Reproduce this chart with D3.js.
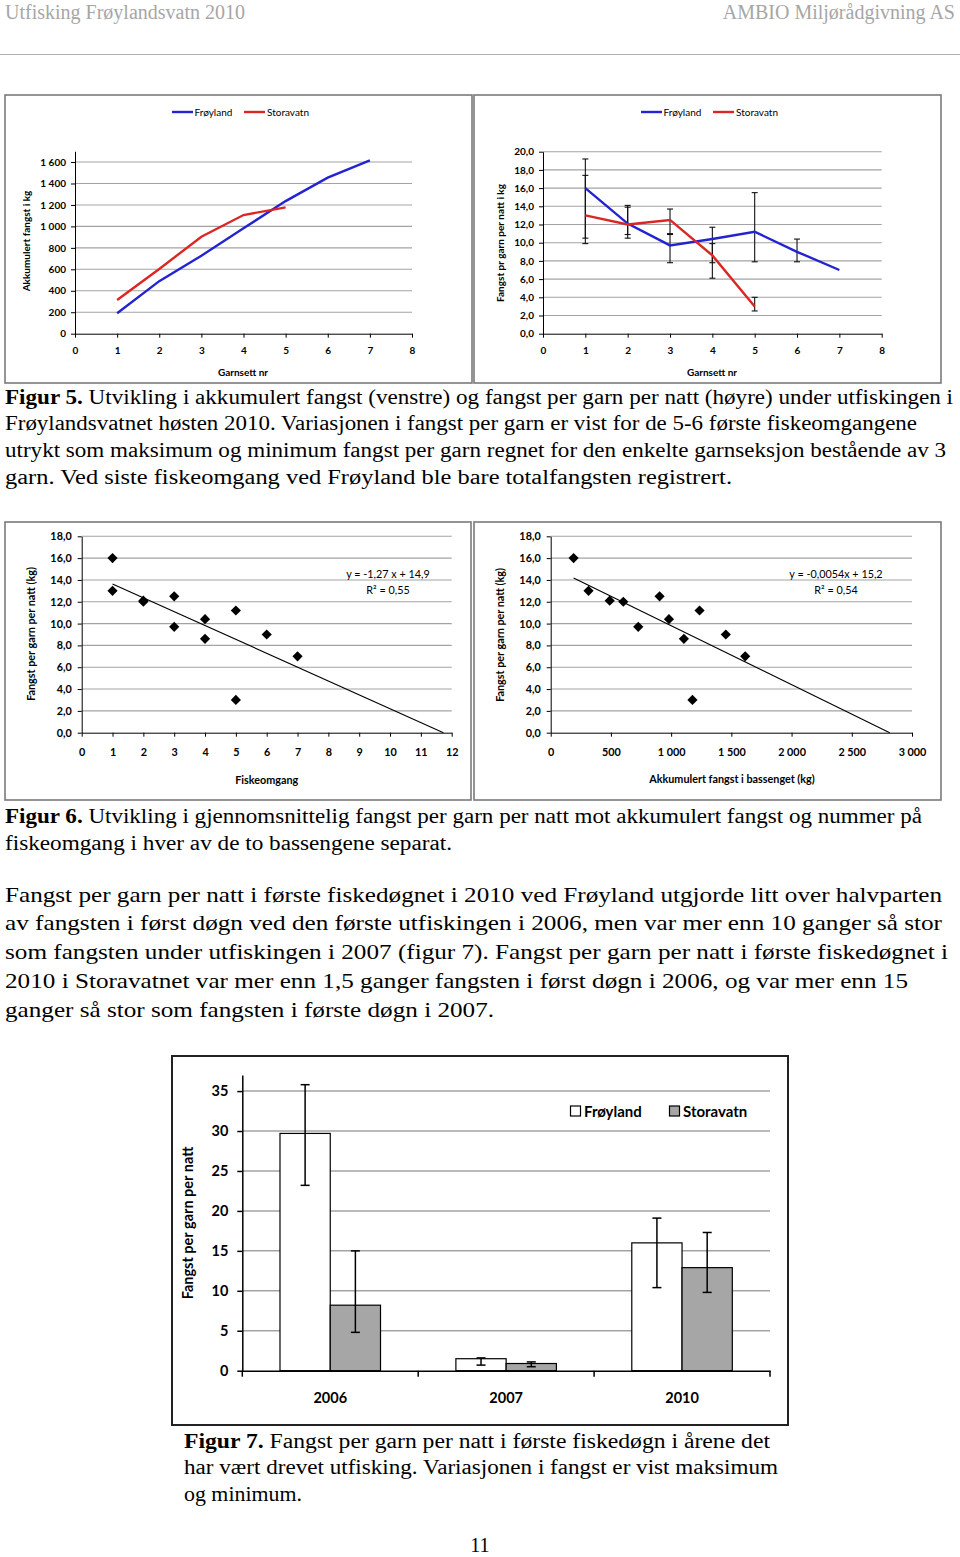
<!DOCTYPE html>
<html><head><meta charset="utf-8">
<script src="https://cdn.jsdelivr.net/npm/d3@7"></script>
<style>
html,body{margin:0;padding:0;background:#fff;}
svg{display:block;}
text{white-space:pre;}
</style></head>
<body>
<script>
// ---------- DATA ----------
const garnsett = [1, 2, 3, 4, 5, 6, 7];
const froylandAkk = [190, 490, 727, 982, 1236, 1454, 1615];
const storavatnAkk = [314, 603, 904, 1106, 1177];
const froylandPerNatt = [16.0, 12.1, 9.7, 10.4, 11.2, 9.0, 7.0];
const storavatnPerNatt = [13.0, 12.0, 12.5, 8.6, 3.0];
const froylandMin = [10.5, 10.5, 7.8, 7.8, 7.9, 7.9];
const froylandMax = [19.2, 14.1, 10.9, 11.7, 15.5, 10.4];
const storavatnMin = [9.9, 10.9, 11.0, 6.1, 2.5];
const storavatnMax = [17.4, 13.9, 13.7, 9.9, 4.0];
const trendOmgang = {slope: -1.27, intercept: 14.9};
const trendAkk = {slope: -0.0054, intercept: 15.2};
const years = ["2006", "2007", "2010"];
const froylandYear = [29.7, 1.5, 16.0];
const froylandYearMin = [23.2, 0.7, 10.4];
const froylandYearMax = [35.8, 1.6, 19.1];
const storavatnYear = [8.2, 0.9, 12.9];
const storavatnYearMin = [4.8, 0.5, 9.8];
const storavatnYearMax = [15.0, 1.1, 17.3];
const ticksAkk = [0, 200, 400, 600, 800, 1000, 1200, 1400, 1600];
const ticksPerNatt20 = [0, 2, 4, 6, 8, 10, 12, 14, 16, 18, 20];
const ticksPerNatt18 = [0, 2, 4, 6, 8, 10, 12, 14, 16, 18];
const ticksGarnsett = [0, 1, 2, 3, 4, 5, 6, 7, 8];
const ticksOmgang = [0, 1, 2, 3, 4, 5, 6, 7, 8, 9, 10, 11, 12];
const ticksAkkX = [0, 500, 1000, 1500, 2000, 2500, 3000];
const ticksYear = [0, 5, 10, 15, 20, 25, 30, 35];

// ---------- SETUP ----------
const svg = d3.select("body").append("svg").attr("width", 960).attr("height", 1557);
const loc = d3.formatLocale({decimal: ",", thousands: " ", grouping: [3], currency: ["", ""]});
const fInt = loc.format(",");
const f1 = loc.format(",.1f");
const BLUE = "#2323d2", RED = "#dc2626", GRID = "#a3a3a3";
const CF = "Lato, 'Open Sans', sans-serif";
const SERIF = "'Liberation Serif', 'Times New Roman', serif";

function frame(x0, y0, x1, y1, col, w) {
  svg.append("rect").attr("x", x0).attr("y", y0).attr("width", x1 - x0).attr("height", y1 - y0)
    .attr("fill", "none").attr("stroke", col || "#7a7a7a").attr("stroke-width", w || 1.6);
}

function axes(g, x, y, yTicks, xTicks, yFmt, xFmt, fs, opts) {
  opts = opts || {};
  const xr = x.range(), yr = y.range();
  g.append("g").selectAll("line").data(yTicks.filter(v => v > 0)).join("line")
    .attr("x1", xr[0]).attr("x2", xr[1]).attr("y1", d => y(d)).attr("y2", d => y(d))
    .attr("stroke", GRID).attr("stroke-width", opts.gw || 1.1);
  const ya = g.append("g").attr("transform", `translate(${xr[0]},0)`)
    .call(d3.axisLeft(y).tickValues(yTicks).tickFormat(yFmt).tickSizeInner(opts.ts || 4).tickSizeOuter(0).tickPadding(opts.yp || 5));
  const xa = g.append("g").attr("transform", `translate(0,${yr[0]})`)
    .call(d3.axisBottom(x).tickValues(xTicks).tickFormat(xFmt).tickSizeInner(opts.ts || 4).tickSizeOuter(0).tickPadding(opts.xp || 8));
  [ya, xa].forEach(a => {
    a.selectAll("path,line").attr("stroke", "#000").attr("stroke-width", opts.aw || 1);
    a.selectAll("text").style("font-family", CF).style("font-weight", "bold").style("font-size", fs + "px").attr("fill", "#000");
  });
  return {ya, xa};
}

function label(x, y, txt, fs, opts) {
  opts = opts || {};
  const t = svg.append("text").attr("x", x).attr("y", y).text(txt)
    .style("font-family", CF).style("font-size", fs + "px")
    .style("font-weight", opts.bold === false ? "normal" : "bold")
    .attr("text-anchor", opts.anchor || "middle").attr("fill", "#000");
  if (opts.rot) t.attr("transform", `rotate(-90,${x},${y})`);
  return t;
}

function legendLines(x0, y0) {
  svg.append("line").attr("x1", x0).attr("x2", x0 + 21).attr("y1", y0).attr("y2", y0).attr("stroke", BLUE).attr("stroke-width", 2.4);
  svg.append("text").attr("x", x0 + 22.5).attr("y", y0 + 3.5).text("Frøyland").style("font-family", CF).style("font-size", "10px");
  svg.append("line").attr("x1", x0 + 72).attr("x2", x0 + 93).attr("y1", y0).attr("y2", y0).attr("stroke", RED).attr("stroke-width", 2.4);
  svg.append("text").attr("x", x0 + 95).attr("y", y0 + 3.5).text("Storavatn").style("font-family", CF).style("font-size", "10px");
}

// ---------- HEADER ----------
svg.append("text").attr("x", 5).attr("y", 19).text("Utfisking Frøylandsvatn 2010")
  .style("font-family", SERIF).style("font-size", "20px").attr("fill", "#a6a6a6");
svg.append("text").attr("x", 955).attr("y", 19).attr("text-anchor", "end").text("AMBIO Miljørådgivning AS")
  .style("font-family", SERIF).style("font-size", "20px").attr("fill", "#a6a6a6");
svg.append("line").attr("x1", 0).attr("x2", 960).attr("y1", 54.5).attr("y2", 54.5).attr("stroke", "#b0b0b0").attr("stroke-width", 1.2);

// ---------- FIG 5 LEFT ----------
frame(5, 95, 472, 383);
{
  const x = d3.scaleLinear().domain([0, 8]).range([75, 412]);
  const y = d3.scaleLinear().domain([0, 1700]).range([333.7, 151.3]);
  const g = svg.append("g");
  axes(g, x, y, ticksAkk, ticksGarnsett, fInt, d3.format("d"), 10, {xp: 9});
  const line = d3.line().x((d, i) => x(garnsett[i])).y(d => y(d));
  g.append("path").attr("d", line(froylandAkk)).attr("fill", "none").attr("stroke", BLUE).attr("stroke-width", 2.4);
  g.append("path").attr("d", line(storavatnAkk)).attr("fill", "none").attr("stroke", RED).attr("stroke-width", 2.4);
  legendLines(172, 112);
  label(30, 241, "Akkumulert fangst i kg", 10, {rot: true});
  label(243, 375.5, "Garnsett nr", 10);
}

// ---------- FIG 5 RIGHT ----------
frame(474, 95, 941, 383);
{
  const x = d3.scaleLinear().domain([0, 8]).range([543, 881.7]);
  const y = d3.scaleLinear().domain([0, 20]).range([333.7, 151.7]);
  const g = svg.append("g");
  axes(g, x, y, ticksPerNatt20, ticksGarnsett, f1, d3.format("d"), 10, {xp: 9});
  const line = d3.line().x((d, i) => x(garnsett[i])).y(d => y(d));
  function errs(mins, maxs) {
    mins.forEach((mn, i) => {
      const cx = x(garnsett[i]), mx = maxs[i];
      g.append("line").attr("x1", cx).attr("x2", cx).attr("y1", y(mn)).attr("y2", y(mx)).attr("stroke", "#111").attr("stroke-width", 1.1);
      [mn, mx].forEach(v => g.append("line").attr("x1", cx - 3).attr("x2", cx + 3).attr("y1", y(v)).attr("y2", y(v)).attr("stroke", "#111").attr("stroke-width", 1.1));
    });
  }
  errs(froylandMin, froylandMax);
  errs(storavatnMin, storavatnMax);
  g.append("path").attr("d", line(froylandPerNatt)).attr("fill", "none").attr("stroke", BLUE).attr("stroke-width", 2.4);
  g.append("path").attr("d", line(storavatnPerNatt)).attr("fill", "none").attr("stroke", RED).attr("stroke-width", 2.4);
  legendLines(641, 112);
  label(504, 243, "Fangst pr garn per natt i kg", 10, {rot: true});
  label(712, 375.5, "Garnsett nr", 10);
}

// ---------- FIG 6 ----------
const diamond = d3.symbol().type(d3.symbolSquare).size(52);
function scatter(x, y, pts, trend, xStart) {
  const g = svg.append("g");
  const xEnd = -trend.intercept / trend.slope;
  g.append("line").attr("x1", x(xStart)).attr("y1", y(trend.slope * xStart + trend.intercept))
    .attr("x2", x(xEnd)).attr("y2", y(0)).attr("stroke", "#000").attr("stroke-width", 1.1);
  g.selectAll("path.pt").data(pts).join("path").attr("class", "pt").attr("d", diamond)
    .attr("transform", d => `translate(${x(d[0])},${y(d[1])}) rotate(45)`).attr("fill", "#000");
  return g;
}

frame(5, 522, 471, 800);
{
  const x = d3.scaleLinear().domain([0, 12]).range([81.7, 451.7]);
  const y = d3.scaleLinear().domain([0, 18]).range([732.7, 536.3]);
  const g = svg.append("g");
  axes(g, x, y, ticksPerNatt18, ticksOmgang, f1, d3.format("d"), 10.8, {xp: 12, yp: 6});
  const pts = froylandPerNatt.map((v, i) => [garnsett[i], v]).concat(storavatnPerNatt.map((v, i) => [garnsett[i], v]));
  scatter(x, y, pts, trendOmgang, 1);
  label(388, 577.5, "y = -1,27 x + 14,9", 10.8, {bold: false});
  label(388, 593.5, "R² = 0,55", 10.8, {bold: false});
  label(35, 634, "Fangst per garn per natt (kg)", 10.8, {rot: true});
  label(266.7, 783.5, "Fiskeomgang", 10.8);
}

frame(474, 522, 941, 800);
{
  const x = d3.scaleLinear().domain([0, 3000]).range([550.7, 912]);
  const y = d3.scaleLinear().domain([0, 18]).range([732.7, 536.3]);
  const g = svg.append("g");
  axes(g, x, y, ticksPerNatt18, ticksAkkX, f1, fInt, 10.8, {xp: 12, yp: 6});
  const pts = froylandPerNatt.map((v, i) => [froylandAkk[i], v]).concat(storavatnPerNatt.map((v, i) => [storavatnAkk[i], v]));
  scatter(x, y, pts, trendAkk, d3.min(pts, d => d[0]));
  label(836, 577.5, "y = -0,0054x + 15,2", 10.8, {bold: false});
  label(836, 593.5, "R² = 0,54", 10.8, {bold: false});
  label(504, 635, "Fangst per garn per natt (kg)", 10.8, {rot: true});
  label(732, 783, "Akkumulert fangst i bassenget (kg)", 10.8);
}

// ---------- FIG 7 ----------
frame(172, 1056, 788, 1425, "#222", 2);
{
  const x = d3.scaleBand().domain(years).range([242.3, 770]).padding(0);
  const xs = d3.scaleBand().domain(["F", "S"]).range([0, x.bandwidth()]).paddingInner(0).paddingOuter(0.75);
  const y = d3.scaleLinear().domain([0, 37]).range([1370.7, 1075.1]);
  const g = svg.append("g");
  g.append("g").selectAll("line").data(ticksYear.filter(v => v > 0)).join("line")
    .attr("x1", 242.3).attr("x2", 770).attr("y1", d => y(d)).attr("y2", d => y(d))
    .attr("stroke", GRID).attr("stroke-width", 1.5);
  const series = [
    {k: "F", v: froylandYear, mn: froylandYearMin, mx: froylandYearMax, fill: "#fff"},
    {k: "S", v: storavatnYear, mn: storavatnYearMin, mx: storavatnYearMax, fill: "#a6a6a6"}
  ];
  series.forEach(s => {
    g.selectAll(null).data(years).join("rect")
      .attr("x", d => x(d) + xs(s.k)).attr("width", xs.bandwidth())
      .attr("y", (d, i) => y(s.v[i])).attr("height", (d, i) => y(0) - y(s.v[i]))
      .attr("fill", s.fill).attr("stroke", "#000").attr("stroke-width", 1.2);
  });
  series.forEach(s => {
    years.forEach((yr, i) => {
      const cx = x(yr) + xs(s.k) + xs.bandwidth() / 2;
      g.append("line").attr("x1", cx).attr("x2", cx).attr("y1", y(s.mn[i])).attr("y2", y(s.mx[i])).attr("stroke", "#000").attr("stroke-width", 1.5);
      [s.mn[i], s.mx[i]].forEach(v => g.append("line").attr("x1", cx - 4.5).attr("x2", cx + 4.5).attr("y1", y(v)).attr("y2", y(v)).attr("stroke", "#000").attr("stroke-width", 1.5));
    });
  });
  const ya = g.append("g").attr("transform", "translate(242.3,0)")
    .call(d3.axisLeft(y).tickValues(ticksYear).tickSizeInner(5).tickSizeOuter(0).tickPadding(9));
  const xa = g.append("g").attr("transform", `translate(0,${y(0)})`)
    .call(d3.axisBottom(x).tickSize(0).tickPadding(22));
  xa.selectAll(".tick line").remove();
  g.append("g").selectAll("line").data(x.domain().map(d => x(d)).concat([770])).join("line")
    .attr("x1", d => d).attr("x2", d => d).attr("y1", y(0)).attr("y2", y(0) + 6).attr("stroke", "#000").attr("stroke-width", 1.5);
  [ya, xa].forEach(a => {
    a.selectAll("path,line").attr("stroke", "#000").attr("stroke-width", 1.5);
    a.selectAll("text").style("font-family", CF).style("font-weight", "bold").style("font-size", "14.5px").attr("fill", "#000");
  });
  g.append("rect").attr("x", 570.5).attr("y", 1106).attr("width", 10).attr("height", 10).attr("fill", "#fff").attr("stroke", "#000").attr("stroke-width", 1.2);
  label(584, 1116.5, "Frøyland", 15, {anchor: "start"});
  g.append("rect").attr("x", 669.5).attr("y", 1106).attr("width", 10).attr("height", 10).attr("fill", "#a6a6a6").attr("stroke", "#000").attr("stroke-width", 1.2);
  label(683, 1116.5, "Storavatn", 15, {anchor: "start"});
  label(193, 1223, "Fangst per garn per natt", 14.5, {rot: true});
}

// ---------- TEXT ----------
function textLine(x, y, parts, size, len) {
  const t = svg.append("text").attr("x", x).attr("y", y).style("font-family", SERIF).style("font-size", size + "px").attr("fill", "#000");
  parts.forEach(p => t.append("tspan").text(p[0]).style("font-weight", p[1] ? "bold" : "normal"));
  if (len) t.attr("textLength", len).attr("lengthAdjust", "spacingAndGlyphs");
  return t;
}
const cap5 = [
  [[["Figur 5.", 1], [" Utvikling i akkumulert fangst (venstre) og fangst per garn per natt (høyre) under utfiskingen i"]], 948],
  [[["Frøylandsvatnet høsten 2010. Variasjonen i fangst per garn er vist for de 5-6 første fiskeomgangene"]], 912],
  [[["utrykt som maksimum og minimum fangst per garn regnet for den enkelte garnseksjon bestående av 3"]], 941],
  [[["garn. Ved siste fiskeomgang ved Frøyland ble bare totalfangsten registrert."]], 727]
];
cap5.forEach((l, i) => textLine(5, 403.5 + i * 26.8, l[0], 20, l[1]));
const cap6 = [
  [[["Figur 6.", 1], [" Utvikling i gjennomsnittelig fangst per garn per natt mot akkumulert fangst og nummer på"]], 917],
  [[["fiskeomgang i hver av de to bassengene separat."]], 447]
];
cap6.forEach((l, i) => textLine(5, 823 + i * 27, l[0], 20, l[1]));
const body = [
  ["Fangst per garn per natt i første fiskedøgnet i 2010 ved Frøyland utgjorde litt over halvparten", 937],
  ["av fangsten i først døgn ved den første utfiskingen i 2006, men var mer enn 10 ganger så stor", 937],
  ["som fangsten under utfiskingen i 2007 (figur 7). Fangst per garn per natt i første fiskedøgnet i", 943],
  ["2010 i Storavatnet var mer enn 1,5 ganger fangsten i først døgn i 2006, og var mer enn 15", 903],
  ["ganger så stor som fangsten i første døgn i 2007.", 489]
];
body.forEach((l, i) => textLine(5, 901.7 + i * 28.75, [[l[0]]], 22, l[1]));
const cap7 = [
  [[["Figur 7.", 1], [" Fangst per garn per natt i første fiskedøgn i årene det"]], 586],
  [[["har vært drevet utfisking. Variasjonen i fangst er vist maksimum"]], 594],
  [[["og minimum."]], 118]
];
cap7.forEach((l, i) => textLine(184, 1447.5 + i * 26.5, l[0], 20, l[1]));
svg.append("text").attr("x", 480).attr("y", 1552).attr("text-anchor", "middle").text("11")
  .style("font-family", SERIF).style("font-size", "20px");
</script>
</body></html>
